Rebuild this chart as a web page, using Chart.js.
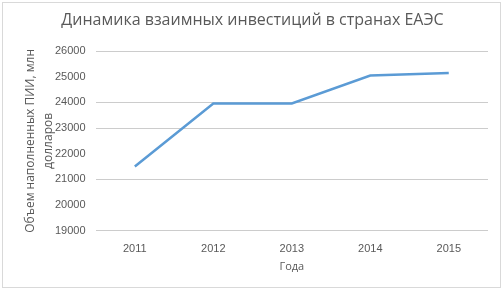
<!DOCTYPE html>
<html>
<head>
<meta charset="utf-8">
<script src="https://cdn.jsdelivr.net/npm/chart.js@4/dist/chart.umd.min.js"></script>
<style>
  html, body { margin: 0; padding: 0; background: #fff; }
  #wrap { position: absolute; left: 2px; top: 2px; width: 497px; height: 284px; border: 1px solid #d9d9d9; }
</style>
</head>
<body>
<div id="wrap"><canvas id="chart"></canvas></div>
<script>
const years = ['2011', '2012', '2013', '2014', '2015'];
const investments = [21500, 23960, 23960, 25050, 25150];
const yMin = 19000;
const yMax = 26000;
const yStep = 1000;
// gridlines that are not visible in the reference picture
const hiddenGrid = [20000, 22000, 25000];

const grey = '#595959';

new Chart(document.getElementById('chart').getContext('2d'), {
  type: 'line',
  data: {
    labels: years,
    datasets: [{
      data: investments,
      borderColor: '#5B9BD5',
      borderWidth: 2.5,
      pointRadius: 0,
      fill: false,
      tension: 0
    }]
  },
  options: {
    responsive: true,
    maintainAspectRatio: false,
    animation: false,
    layout: { padding: { left: 14, right: 12, top: 4, bottom: 10 } },
    plugins: {
      legend: { display: false },
      tooltip: { enabled: false },
      title: {
        display: true,
        text: 'Динамика взаимных инвестиций в странах ЕАЭС',
        color: grey,
        font: { family: 'Open Sans', size: 16, weight: 'normal' },
        padding: { top: 4, bottom: 21 }
      }
    },
    scales: {
      x: {
        offset: true,
        grid: { display: false },
        border: { display: false },
        ticks: { color: grey, font: { family: 'Liberation Sans', size: 11 }, padding: 4 },
        title: { display: true, text: 'Года', color: grey, font: { family: 'Open Sans', size: 11 }, padding: { top: 0 } }
      },
      y: {
        min: yMin,
        max: yMax,
        grid: {
          color: (ctx) => (ctx.tick && hiddenGrid.includes(ctx.tick.value)) ? 'rgba(0,0,0,0)' : '#cccccc',
          lineWidth: 1,
          drawTicks: false
        },
        border: { display: false },
        ticks: {
          stepSize: yStep,
          color: grey,
          font: { family: 'Liberation Sans', size: 11 },
          padding: 10,
          callback: (v) => String(v)
        },
        title: {
          display: true,
          text: ['Объем наполненных ПИИ, млн', 'долларов'],
          color: grey,
          font: { family: 'Open Sans', size: 12, lineHeight: 1.5 },
          padding: { top: 5, bottom: -13 }
        }
      }
    }
  }
});
</script>
</body>
</html>
